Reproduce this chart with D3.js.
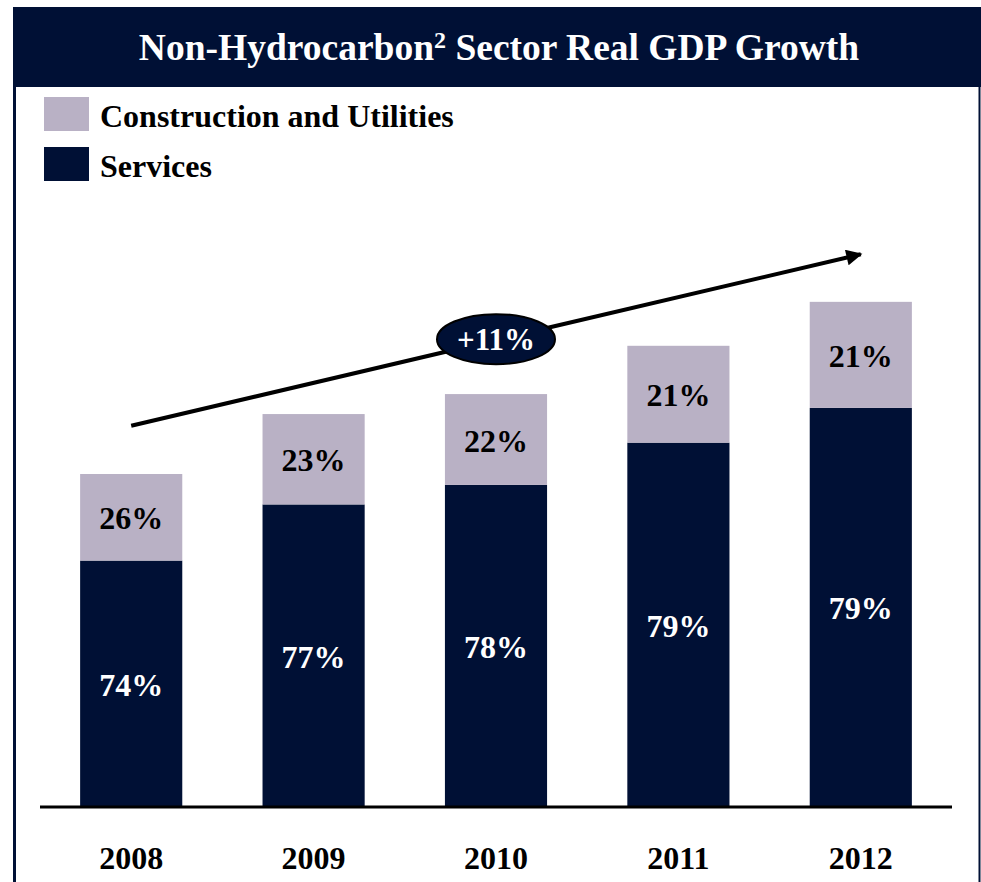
<!DOCTYPE html>
<html>
<head>
<meta charset="utf-8">
<script src="https://cdn.jsdelivr.net/npm/d3@7"></script>
<style>
  html, body { margin: 0; padding: 0; background: #ffffff; }
  svg { display: block; }
  text { font-family: "Liberation Serif", "Times New Roman", serif; font-weight: bold; }
</style>
</head>
<body>
<svg id="chart" width="981" height="882"></svg>
<script>
// ---- data ----
const years = ["2008", "2009", "2010", "2011", "2012"];
const totalIndex = [100, 118, 124, 138.5, 151.7];      // relative size of sector (2008 = 100)
const servicesShare = [74, 77, 78, 79, 79];            // % of total
const constructionShare = [26, 23, 22, 21, 21];        // % of total
const seriesNames = ["Construction and Utilities", "Services"];
const growthLabel = "+11%";
const arrowFrom = { year: "2008", value: 114.5 };
const arrowTo = { year: "2012", value: 166 };
const badgeAt = { year: "2010", value: 140.5 };

// ---- styles ----
const NAVY = "#001035";
const LAV = "#b9b1c5";

const svg = d3.select("#chart");
const W = 981, H = 882;

// frame
svg.append("rect").attr("x", 13).attr("y", 7).attr("width", W - 13).attr("height", 80).attr("fill", NAVY);
svg.append("line").attr("x1", 14.5).attr("x2", 14.5).attr("y1", 87).attr("y2", H).attr("stroke", NAVY).attr("stroke-width", 3);
svg.append("line").attr("x1", 979.5).attr("x2", 979.5).attr("y1", 87).attr("y2", H).attr("stroke", NAVY).attr("stroke-width", 2);

// title
const title = svg.append("text").attr("x", 499).attr("y", 60).attr("text-anchor", "middle")
  .attr("fill", "#ffffff").style("font-size", "37.5px");
title.append("tspan").text("Non-Hydrocarbon");
title.append("tspan").text("2").style("font-size", "24px").attr("dy", -12);
title.append("tspan").text(" Sector Real GDP Growth").attr("dy", 12);

// legend
const legendColors = [LAV, NAVY];
seriesNames.forEach((name, i) => {
  const g = svg.append("g").attr("transform", `translate(44, ${97 + i * 50})`);
  g.append("rect").attr("width", 45).attr("height", 34).attr("fill", legendColors[i]);
  g.append("text").attr("x", 56).attr("y", 30).attr("fill", "#000").style("font-size", "32px").text(name);
});

// scales
const baseY = 807;
const x = d3.scaleBand().domain(years).range([40, 952]).paddingInner(0.44).paddingOuter(0.22);
const y = d3.scaleLinear().domain([0, 160]).range([baseY, baseY - 160 * 3.33]);

const rows = years.map((yr, i) => ({
  year: yr,
  total: totalIndex[i],
  serv: totalIndex[i] * servicesShare[i] / 100,
  sShare: servicesShare[i],
  cShare: constructionShare[i]
}));

// bars
const bars = svg.append("g");
bars.selectAll("rect.serv").data(rows).join("rect").attr("class", "serv")
  .attr("x", d => x(d.year)).attr("width", x.bandwidth())
  .attr("y", d => y(d.serv)).attr("height", d => y(0) - y(d.serv))
  .attr("fill", NAVY);
bars.selectAll("rect.cons").data(rows).join("rect").attr("class", "cons")
  .attr("x", d => x(d.year)).attr("width", x.bandwidth())
  .attr("y", d => y(d.total)).attr("height", d => y(d.serv) - y(d.total))
  .attr("fill", LAV);

// segment labels
bars.selectAll("text.sl").data(rows).join("text").attr("class", "sl")
  .attr("x", d => x(d.year) + x.bandwidth() / 2)
  .attr("y", d => (y(d.serv) + y(0)) / 2 + 12)
  .attr("text-anchor", "middle").attr("fill", "#fff").style("font-size", "32px")
  .text(d => d.sShare + "%");
bars.selectAll("text.cl").data(rows).join("text").attr("class", "cl")
  .attr("x", d => x(d.year) + x.bandwidth() / 2)
  .attr("y", d => (y(d.serv) + y(d.total)) / 2 + 12)
  .attr("text-anchor", "middle").attr("fill", "#000").style("font-size", "32px")
  .text(d => d.cShare + "%");

// baseline axis
const xAxis = d3.axisBottom(x).tickSize(0).tickPadding(0);
const ax = svg.append("g").attr("transform", `translate(0, ${baseY})`).call(xAxis);
ax.select(".domain").remove();
ax.append("line").attr("x1", 40).attr("x2", 952).attr("y1", 0).attr("y2", 0)
  .attr("stroke", "#000").attr("stroke-width", 3);
ax.selectAll(".tick text").attr("y", 62).attr("dy", 0)
  .attr("fill", "#000").style("font-size", "32px")
  .style("font-family", "'Liberation Serif', 'Times New Roman', serif").style("font-weight", "bold");

// growth arrow
const defs = svg.append("defs");
defs.append("marker").attr("id", "ah").attr("viewBox", "0 0 10 10").attr("refX", 9).attr("refY", 5)
  .attr("markerWidth", 4.5).attr("markerHeight", 4).attr("orient", "auto").attr("markerUnits", "strokeWidth")
  .append("path").attr("d", "M0,0 L10,5 L0,10 z").attr("fill", "#000");
const cx = d => x(d.year) + x.bandwidth() / 2;
svg.append("line")
  .attr("x1", cx(arrowFrom)).attr("y1", y(arrowFrom.value))
  .attr("x2", cx(arrowTo)).attr("y2", y(arrowTo.value))
  .attr("stroke", "#000").attr("stroke-width", 4).attr("marker-end", "url(#ah)");

// badge
svg.append("ellipse").attr("cx", cx(badgeAt)).attr("cy", y(badgeAt.value)).attr("rx", 59).attr("ry", 25)
  .attr("fill", NAVY).attr("stroke", "#000").attr("stroke-width", 2);
svg.append("text").attr("x", cx(badgeAt)).attr("y", y(badgeAt.value) + 11).attr("text-anchor", "middle")
  .attr("fill", "#fff").style("font-size", "31px").text(growthLabel);
</script>
</body>
</html>
